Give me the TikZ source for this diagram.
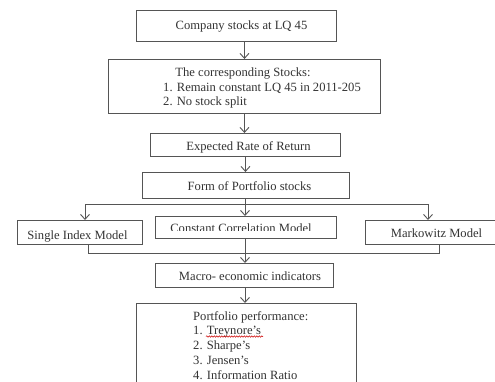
\documentclass[tikz,border=0pt]{standalone}
\usepackage{fontspec}
\setmainfont{Liberation Serif}
\usetikzlibrary{arrows.meta,decorations.pathmorphing}
\definecolor{ln}{HTML}{555555}
\definecolor{tx}{HTML}{333333}
\tikzset{
  box/.style={draw=ln, line width=0.9pt, inner sep=0pt, anchor=north west},
  txt/.style={text=tx, font=\fontsize{12.6}{14}\selectfont, inner sep=0pt},
  conn/.style={draw=ln, line width=0.9pt},
  arr/.style={conn, -{Straight Barb[length=5pt,width=9pt]}}
}
\begin{document}
\begin{tikzpicture}[x=1pt,y=-1pt]
\useasboundingbox (0,0) rectangle (495,381);
\clip (0,0) rectangle (495,381);
\fill[white] (0,0) rectangle (495,381);
% boxes
\node[box, minimum width=200pt, minimum height=31pt] (b1) at (136,10) {};
\node[box, minimum width=272pt, minimum height=54pt] (b2) at (108,59) {};
\node[box, minimum width=190pt, minimum height=23pt] (b3) at (150,133) {};
\node[box, minimum width=207pt, minimum height=26pt] (b4) at (142,172) {};
\node[box, minimum width=125pt, minimum height=24pt] (s) at (17,220) {};
\node[box, minimum width=181pt, minimum height=22pt] (c) at (155,216) {};
\node[box, minimum width=140pt, minimum height=24pt] (m) at (365,220) {};
\node[box, minimum width=178pt, minimum height=24pt] (mac) at (155,263) {};
\node[box, minimum width=220pt, minimum height=90pt] (fin) at (136,303) {};
% texts
\node[txt, anchor=base] (t1) at (241.5,29.5) {Company stocks at LQ 45};
\node[txt, anchor=base] (t2a) at (243,76) {The corresponding Stocks:};
\node[txt, anchor=base west] (t2b) at (163,91) {1. Remain constant LQ 45 in 2011-205};
\node[txt, anchor=base west] (t2c) at (163,105) {2. No stock split};
\node[txt, anchor=base] (t3) at (248.5,150) {Expected Rate of Return};
\node[txt, anchor=base] (t4) at (249.5,190.5) {Form of Portfolio stocks};
\node[txt, anchor=base] (ts) at (77.5,239) {Single Index Model};
\begin{scope}
\clip (156,217) rectangle (335,230.5);
\node[txt, anchor=base] (tc) at (241,232) {Constant Correlation Model};
\end{scope}
\node[txt, anchor=base] (tm) at (436.5,237) {Markowitz Model};
\node[txt, anchor=base] (tmac) at (250,280) {Macro- economic indicators};
\node[txt, anchor=base west] (f0) at (193,320) {Portfolio performance:};
\node[txt, anchor=base west] (f1) at (193,334) {1. Treynore’s};
\node[txt, anchor=base west] (f2) at (193,349) {2. Sharpe’s};
\node[txt, anchor=base west] (f3) at (193,364) {3. Jensen’s};
\node[txt, anchor=base west] (f4) at (193,379) {4. Information Ratio};
\draw[red!80!black, line width=0.5pt, decorate, decoration={snake, amplitude=0.7pt, segment length=2.5pt}] (206,336.5) -- (263,336.5);
% junction coordinates
\coordinate (j1) at (245,204);
\coordinate (jl) at (85,204);
\coordinate (jr) at (428,204);
\coordinate (kl) at (88,253);
\coordinate (kc) at (245,253);
\coordinate (kr) at (439,253);
% connectors
\draw[arr] (b2.north |- b1.south) -- (b2.north);
\draw[arr] (b2.south) -- (b2.south |- b3.north);
\draw[arr] (b3.south) -- (b3.south |- b4.north);
\draw[conn] (j1 |- b4.south) -- (j1);
\draw[conn] (jl) -- (jr);
\draw[arr] (jl) -- (jl |- s.north);
\draw[arr] (j1) -- (j1 |- c.north);
\draw[arr] (jr) -- (jr |- m.north);
\draw[conn] (kl |- s.south) -- (kl) -- (kr) -- (kr |- m.south);
\draw[conn] (kc |- c.south) -- (kc);
\draw[arr] (kc) -- (kc |- mac.north);
\draw[arr] (kc |- mac.south) -- (kc |- fin.north);
\end{tikzpicture}
\end{document}
